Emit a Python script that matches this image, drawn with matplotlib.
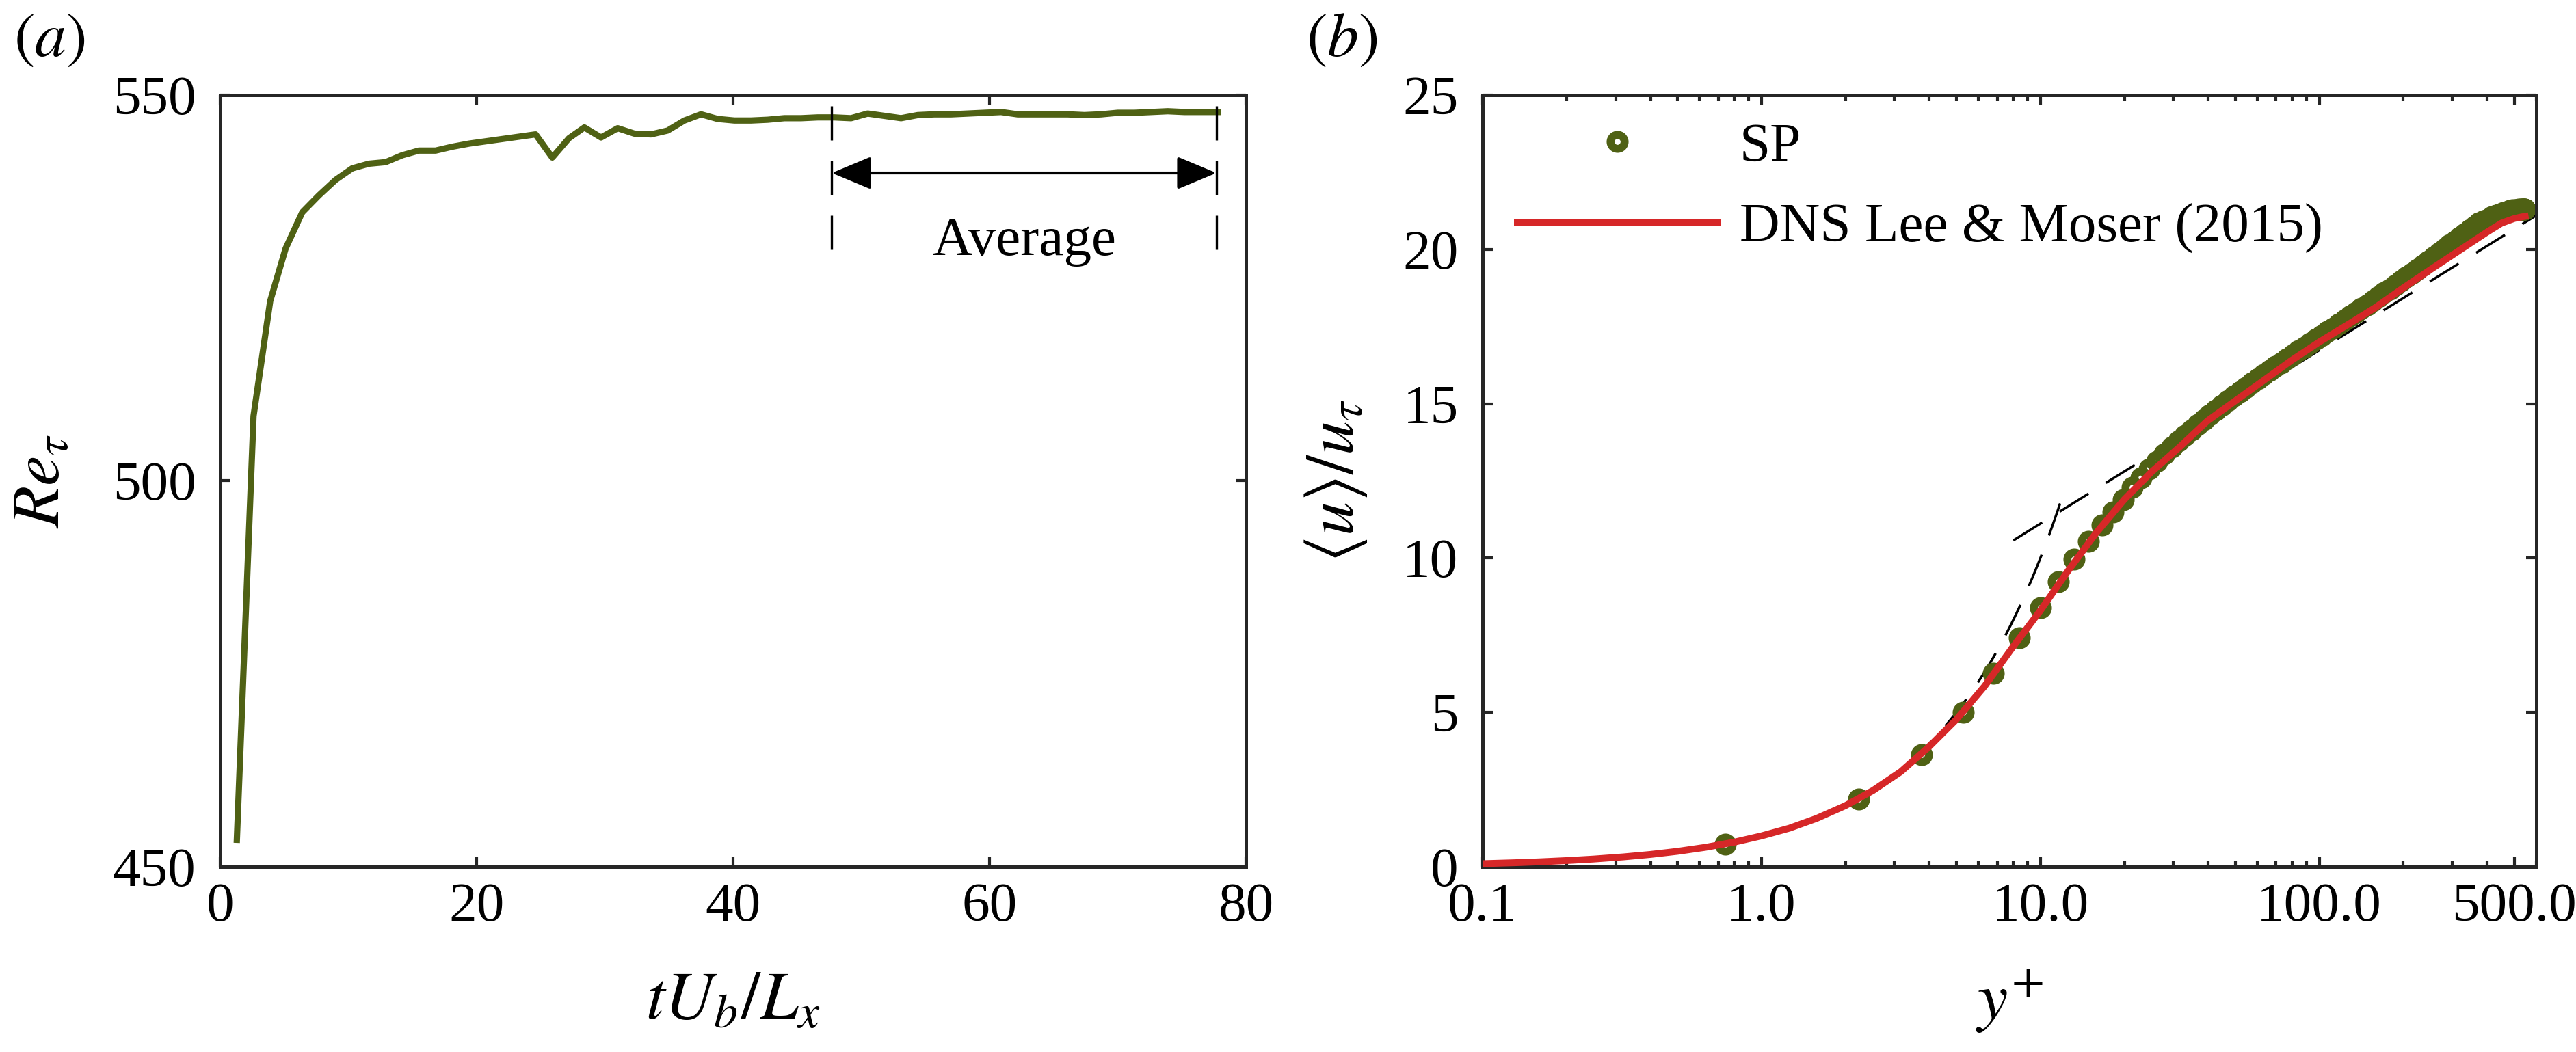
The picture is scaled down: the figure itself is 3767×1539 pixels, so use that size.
import numpy as np
import matplotlib.pyplot as plt
from matplotlib.ticker import LogLocator, NullFormatter, FixedLocator

plt.rcParams['font.family'] = ['Liberation Serif', 'DejaVu Serif']
plt.rcParams['mathtext.fontset'] = 'stix'

# ---- panel (a): Re_tau history ----
t_vals = [1.3, 2.6, 3.9, 5.1, 6.4, 7.7, 9.0, 10.3, 11.6, 12.9, 14.2, 15.5, 16.8,
          18.1, 19.4, 20.7, 22.0, 23.3, 24.6, 25.9, 27.2, 28.4, 29.7, 31.0, 32.3,
          33.6, 34.9, 36.2, 37.5, 38.8, 40.1, 41.4, 42.7, 44.0, 45.3, 46.6, 47.9,
          49.2, 50.5, 51.8, 53.1, 54.4, 55.7, 57.0, 58.3, 59.6, 60.9, 62.2, 63.5,
          64.8, 66.1, 67.4, 68.7, 70.0, 71.3, 72.6, 73.9, 75.2, 76.5, 77.8]
re_tau = [453.5, 508.4, 523.3, 530.1, 534.8, 537.0, 539.0, 540.5, 541.1, 541.3,
          542.2, 542.8, 542.8, 543.3, 543.7, 544.0, 544.3, 544.6, 544.9, 541.9,
          544.4, 545.8, 544.5, 545.7, 545.0, 544.9, 545.4, 546.7, 547.5, 546.9,
          546.7, 546.7, 546.8, 547.0, 547.0, 547.1, 547.1, 547.0, 547.6, 547.3,
          547.0, 547.4, 547.5, 547.5, 547.6, 547.7, 547.8, 547.5, 547.5, 547.5,
          547.5, 547.4, 547.5, 547.7, 547.7, 547.8, 547.9, 547.8, 547.8, 547.8]
avg_start, avg_end = 47.7, 77.7

# ---- panel (b): mean velocity profile ----
dns_yplus = [0.1, 0.13, 0.16, 0.2, 0.25, 0.32, 0.4, 0.5, 0.63, 0.8, 1.0, 1.26,
             1.58, 2.0, 2.51, 3.16, 3.98, 5.01, 6.31, 7.94, 10.0, 12.6, 15.8,
             20.0, 25.1, 31.6, 39.8, 50.1, 63.1, 79.4, 100, 126, 158, 200, 251,
             316, 398, 450, 500, 530, 547]
dns_uplus = [0.1, 0.13, 0.16, 0.2, 0.25, 0.32, 0.4, 0.5, 0.63, 0.8, 1.0, 1.25,
             1.57, 1.98, 2.47, 3.08, 3.88, 4.78, 5.85, 7.1, 8.3, 9.6, 10.8,
             11.9, 12.8, 13.6, 14.45, 15.1, 15.75, 16.4, 17.0, 17.55, 18.1,
             18.75, 19.35, 19.95, 20.55, 20.85, 21.0, 21.05, 21.07]

sp_yplus = [0.74, 2.23, 3.75, 5.28, 6.8, 8.4, 10.0, 11.6, 13.2, 14.9, 16.6, 18.2,
            19.8, 21.4, 23.0, 24.6, 26.2, 27.9, 29.6, 31.3, 33.0, 34.8, 36.6,
            38.5, 40.5, 42.6, 44.8, 47.1, 49.5, 52.0, 54.6, 57.3, 60.2, 63.2,
            66.3, 69.6, 73.0, 76.6, 80.4, 84.3, 88.4, 92.7, 97.2, 101.9, 106.9,
            112.1, 117.5, 123.2, 129.1, 135.3, 141.8, 148.6, 155.7, 163.1, 170.8,
            178.9, 187.3, 196.1, 205.3, 214.9, 224.9, 235.3, 246.1, 257.3, 268.9,
            280.9, 293.3, 306.0, 319.1, 332.5, 346.2, 360.1, 374.2, 388.4, 402.6,
            416.7, 430.6, 444.2, 457.3, 469.8, 481.6, 492.6, 502.6, 511.6, 519.5,
            526.3, 532.0, 536.6, 540.2, 542.8, 544.6, 545.7]
sp_uplus = [0.73, 2.19, 3.63, 5.0, 6.27, 7.42, 8.39, 9.23, 9.96, 10.55, 11.08,
            11.5, 11.9, 12.3, 12.6, 12.88, 13.14, 13.38, 13.6, 13.8, 13.98, 14.15,
            14.32, 14.48, 14.64, 14.8, 14.95, 15.1, 15.25, 15.39, 15.53, 15.67,
            15.81, 15.94, 16.07, 16.2, 16.33, 16.46, 16.59, 16.71, 16.84, 16.96,
            17.09, 17.21, 17.34, 17.46, 17.59, 17.71, 17.84, 17.96, 18.09, 18.21,
            18.34, 18.46, 18.59, 18.71, 18.84, 18.97, 19.1, 19.23, 19.36, 19.49,
            19.62, 19.75, 19.88, 20.01, 20.14, 20.27, 20.39, 20.51, 20.63, 20.74,
            20.85, 20.92, 20.98, 21.05, 21.1, 21.15, 21.19, 21.22, 21.25, 21.27,
            21.28, 21.29, 21.3, 21.3, 21.3, 21.3, 21.3, 21.3, 21.3, 21.3]

# law of the wall reference lines
kappa, B = 0.41, 5.5
visc_range = (1.0, 12.0)
log_range = (8.0, 600.0)

xticks_b = [0.1, 1, 10, 100, 500]
xticklabels_b = ['0.1', '1.0', '10.0', '100.0', '500.0']

GREEN = '#4f6114'
RED = '#d62728'
SPINE = '#262626'
FS = 19.5
LFS = 24

fig = plt.figure(figsize=(3767 / 300, 1539 / 300), dpi=300)
ax1 = fig.add_axes([0.08548, 0.17609, 0.3982, 0.73359])
ax2 = fig.add_axes([0.57552, 0.17609, 0.40908, 0.73359])

for ax in (ax1, ax2):
    for s in ax.spines.values():
        s.set_linewidth(1.2)
        s.set_color(SPINE)
    ax.tick_params(which='both', direction='in', top=True, right=True,
                   color=SPINE, labelsize=FS)
    ax.tick_params(which='major', length=3.6, width=1.0)
    ax.tick_params(which='minor', length=2.2, width=1.0)
    ax.tick_params(axis='x', pad=5.5)
    ax.tick_params(axis='y', pad=8.5)

# ---------- (a) ----------
ax1.plot(t_vals, re_tau, color=GREEN, lw=2.2)
for xv in (avg_start, avg_end):
    ax1.plot([xv, xv], [548.6, 530.0], color='k', lw=0.8, ls=(0, (15, 9)))
ax1.annotate('', xy=(avg_end, 539.9), xytext=(avg_start, 539.9),
             arrowprops=dict(arrowstyle='<|-|>,head_length=0.6,head_width=0.25',
                             color='k', lw=1.0, shrinkA=0, shrinkB=0,
                             mutation_scale=20))
ax1.text((avg_start + avg_end) / 2, 531.0, 'Average', fontsize=FS,
         ha='center', va='center')
ax1.set_xlim(0, 80)
ax1.set_ylim(450, 550)
ax1.set_xticks([0, 20, 40, 60, 80])
ax1.set_yticks([450, 500, 550])
ax1.set_xlabel(r'$tU_b/L_x$', fontsize=LFS)
ax1.set_ylabel(r'$Re_\tau$', fontsize=LFS)
ax1.xaxis.set_label_coords(0.5, -0.175)
ax1.xaxis.label.set_va('center')
ax1.yaxis.set_label_coords(-0.173, 0.5)
ax1.yaxis.label.set_va('center')

# ---------- (b) ----------
yv = np.geomspace(*visc_range, 60)
ax2.plot(yv, yv, color='k', lw=0.85, ls=(0, (14, 8.5)), zorder=1)
yl = np.geomspace(*log_range, 80)
ax2.plot(yl, np.log(yl) / kappa + B, color='k', lw=0.85, ls=(0, (14, 8.5)), zorder=1)
ax2.plot(sp_yplus, sp_uplus, ls='none', marker='o', ms=4.9, mew=2.8,
         mfc='none', mec=GREEN, label='SP', zorder=2)
ax2.plot(dns_yplus, dns_uplus, color=RED, lw=2.4, label='DNS Lee & Moser (2015)',
         zorder=3)
ax2.set_xscale('log')
ax2.set_xlim(0.1, 600)
ax2.set_ylim(0, 25)
ax2.xaxis.set_major_locator(FixedLocator(xticks_b))
ax2.set_xticklabels(xticklabels_b)
ax2.xaxis.set_minor_locator(LogLocator(base=10, subs=np.arange(2, 10), numticks=20))
ax2.xaxis.set_minor_formatter(NullFormatter())
ax2.set_yticks([0, 5, 10, 15, 20, 25])
ax2.set_xlabel(r'$y^{+}$', fontsize=LFS)
ax2.set_ylabel(r'$\langle u\rangle/u_\tau$', fontsize=LFS)
ax2.xaxis.set_label_coords(0.5, -0.175)
ax2.xaxis.label.set_va('center')
ax2.yaxis.set_label_coords(-0.139, 0.5)
ax2.yaxis.label.set_va('center')
ax2.legend(loc='upper left', bbox_to_anchor=(0.033, 0.965), frameon=False,
           fontsize=FS, numpoints=1, handlelength=3.6, handletextpad=0.4,
           borderpad=0, borderaxespad=0, labelspacing=0.55)

fig.text(72 / 3767, 1 - 60 / 1539, r'$(a)$', fontsize=22, ha='center', va='center')
fig.text(1962 / 3767, 1 - 60 / 1539, r'$(b)$', fontsize=22, ha='center', va='center')

fig.savefig('out.png', dpi=300)
